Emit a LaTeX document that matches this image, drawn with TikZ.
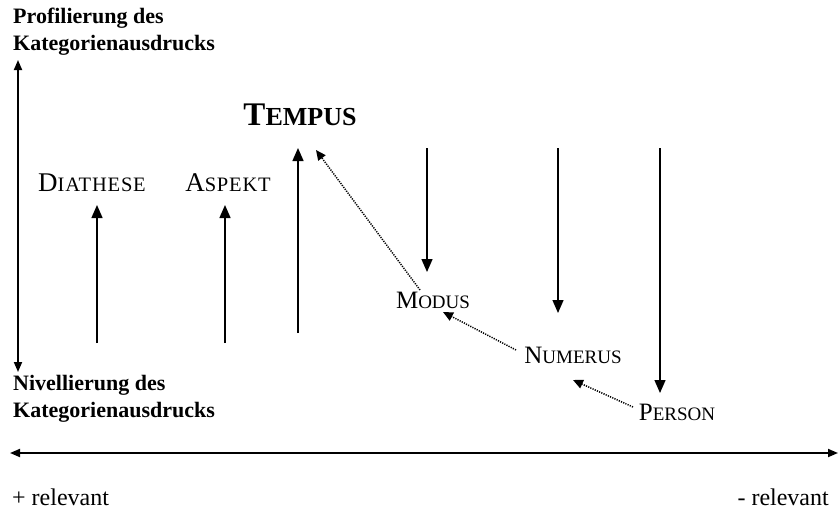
\documentclass[tikz,border=0pt]{standalone}
\usepackage{fontspec}
\setmainfont{Liberation Serif}
\usetikzlibrary{arrows.meta}
\newcommand\mysc[4]{{\fontsize{#1}{#1}\selectfont #3}{\fontsize{#2}{#2}\selectfont #4}}
\begin{document}
\begin{tikzpicture}[x=1pt,y=-1pt,
  arr/.style={line width=1.4pt,-{Triangle[length=13pt,width=11pt]}},
  darr/.style={line width=1.8pt,{Triangle[length=10pt,width=8pt]}-{Triangle[length=10pt,width=8pt]}},
  dotarr/.style={line width=1.5pt,dash pattern=on 1.2pt off 1.2pt,-{Triangle[length=10pt,width=9pt]}},
  bold/.style={font=\fontsize{22}{27}\selectfont\bfseries,align=left,anchor=west,inner sep=0pt},
  cat/.style={inner sep=1pt},
  rel/.style={font=\fontsize{24}{24}\selectfont,inner sep=0pt}]
\useasboundingbox (0,0) rectangle (838,512);
% left labels
\node[bold] (prof) at (13,32) {Profilierung des\\Kategorienausdrucks};
\node[bold] (niv) at (13,399) {Nivellierung des\\Kategorienausdrucks};
\coordinate (vtop) at (18,60);
\coordinate (vbot) at (18,372);
\draw[darr] (vtop) -- (vbot);
% horizontal axis
\coordinate (hl) at (10,453);
\coordinate (hr) at (838,453);
\draw[darr] (hl) -- (hr);
\node[rel,anchor=west] (plus) at (12,497) {+ relevant};
\node[rel,anchor=east] (minus) at (829,497) {- relevant};
% categories
\node[cat] (dia) at (92,183) {\addfontfeatures{LetterSpace=4}\mysc{27}{20.5}{D}{IATHESE}};
\node[cat] (asp) at (228,183) {\addfontfeatures{LetterSpace=4}\mysc{27}{20.5}{A}{SPEKT}};
\node[cat] (tem) at (300,115) {\mysc{33}{26}{\bfseries T}{\bfseries EMPUS}};
\node[cat] (mod) at (433,300) {\mysc{25}{19}{M}{ODUS}};
\node[cat] (num) at (573,355) {\mysc{25}{19}{N}{UMERUS}};
\node[cat] (per) at (677,412) {\mysc{25}{19}{P}{ERSON}};
% up arrows
\coordinate (d0) at (97,343);
\coordinate (a0) at (225,343);
\coordinate (t0) at (298,333);
\draw[arr] (d0) -- (97,205);
\draw[arr] (a0) -- (225,205);
\draw[arr] (t0) -- (298,148);
% down arrows
\coordinate (m0) at (427,148);
\coordinate (n0) at (558,148);
\coordinate (p0) at (660,148);
\draw[arr] (m0) -- (427,272);
\draw[arr] (n0) -- (558,313);
\draw[arr] (p0) -- (660,393);
% dotted arrows
\coordinate (mt) at (420,290);
\coordinate (nw) at (516,350);
\coordinate (pw) at (633,407);
\draw[dotarr] (mt) -- (316,150);
\draw[dotarr] (nw) -- (443,312);
\draw[dotarr] (pw) -- (573,380);
\end{tikzpicture}
\end{document}
